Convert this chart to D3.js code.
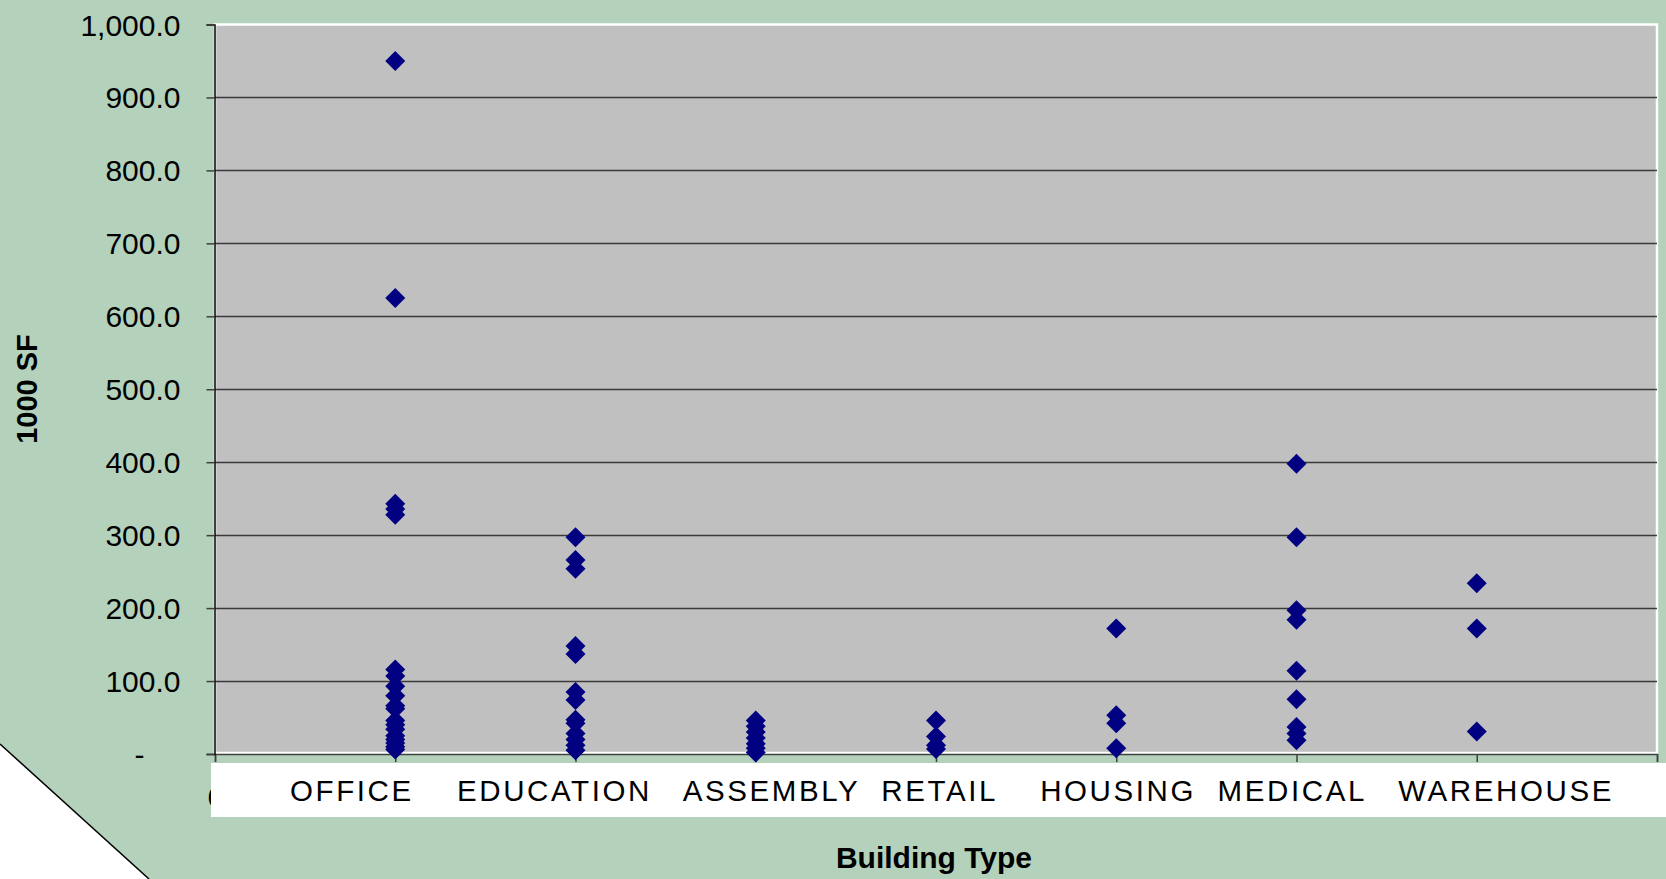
<!DOCTYPE html>
<html>
<head>
<meta charset="utf-8">
<script src="https://cdn.jsdelivr.net/npm/d3@7/dist/d3.min.js"></script>
<style>
  html, body { margin: 0; padding: 0; background: #B3D1BB; }
  svg { display: block; }
  text { font-family: "Liberation Sans", Arial, sans-serif; fill: #000; }
</style>
</head>
<body>
<svg id="chart" width="1666" height="879"></svg>
<script>
// Building floor area (thousands of square feet) by building type
const categories = ["OFFICE", "EDUCATION", "ASSEMBLY", "RETAIL", "HOUSING", "MEDICAL", "WAREHOUSE"];
const officeSF    = [950, 625, 343, 336, 328, 116, 107, 93, 80, 66, 62, 46, 40, 34, 25, 20, 15, 10, 6];
const educationSF = [297, 266, 254, 148, 137, 85, 74, 47, 42, 28, 20, 12, 5];
const assemblySF  = [46, 38, 30, 22, 14, 8, 2];
const retailSF    = [46, 24, 12, 7];
const housingSF   = [172, 53, 42, 8];
const medicalSF   = [398, 297, 197, 184, 114, 75, 37, 28, 19];
const warehouseSF = [234, 172, 31];
const yTickValues = [0, 100, 200, 300, 400, 500, 600, 700, 800, 900, 1000];
const xTickValues = [0, 1, 2, 3, 4, 5, 6, 7, 8];

const seriesByType = [officeSF, educationSF, assemblySF, retailSF, housingSF, medicalSF, warehouseSF];
const points = [];
seriesByType.forEach((vals, i) => vals.forEach(v => points.push({ pos: i + 1, value: v })));

const svg = d3.select("#chart");
const W = 1666, H = 879;
const plot = { left: 215, right: 1657, top: 24.5, bottom: 754 };

const x = d3.scaleLinear().domain([0, 8]).range([plot.left, plot.right]);
const y = d3.scaleLinear().domain([0, 1000]).range([plot.bottom, plot.top]);

// page background
svg.append("rect").attr("width", W).attr("height", H).attr("fill", "#B3D1BB");

// white corner cut at bottom-left
svg.append("path")
  .attr("d", `M0,744 L149,${H} L0,${H} Z`)
  .attr("fill", "#fff");
svg.append("line")
  .attr("x1", 0).attr("y1", 744).attr("x2", 149).attr("y2", H)
  .attr("stroke", "#000").attr("stroke-width", 1.5);

// plot area
svg.append("rect")
  .attr("x", plot.left).attr("y", y(1000))
  .attr("width", plot.right - plot.left)
  .attr("height", plot.bottom - y(1000) - 1)
  .attr("fill", "#C0C0C0")
  .attr("stroke", "#fff").attr("stroke-width", 2.5);

// horizontal gridlines
svg.append("g")
  .selectAll("line")
  .data(yTickValues.filter(v => v > 0 && v < 1000))
  .join("line")
  .attr("x1", plot.left).attr("x2", plot.right)
  .attr("y1", d => Math.round(y(d)) + 0.5).attr("y2", d => Math.round(y(d)) + 0.5)
  .attr("stroke", "#3a3a3a").attr("stroke-width", 1.3);

// x axis: only the origin label peeks out from behind the category band
const xAxis = d3.axisBottom(x).tickValues(xTickValues).tickSize(8).tickPadding(25)
  .tickFormat(d => d === 0 ? "0" : "");
const gx = svg.append("g").attr("transform", `translate(0,${plot.bottom})`).call(xAxis);
gx.select(".domain").attr("stroke", "#404040").attr("stroke-width", 1.5);
gx.selectAll(".tick line").attr("stroke", "#404040").attr("stroke-width", 1.5);
gx.selectAll(".tick text").attr("font-size", 28).attr("font-family", "Liberation Sans, Arial, sans-serif").attr("fill", "#000");
gx.selectAll(".tick text").filter(d => d !== 0).remove();

// y axis
const yFmt = d3.format(",.1f");
const yAxis = d3.axisLeft(y).tickValues(yTickValues).tickSize(8).tickPadding(26)
  .tickFormat(d => d === 0 ? "-" : yFmt(d));
const gy = svg.append("g").attr("transform", `translate(${plot.left - 0.5},0)`).call(yAxis);
gy.select(".domain").attr("stroke", "#000").attr("stroke-width", 1.5);
gy.selectAll(".tick line").attr("stroke", "#404040").attr("stroke-width", 1.5);
gy.selectAll(".tick text")
  .attr("font-size", 30)
  .attr("font-family", "Liberation Sans, Arial, sans-serif")
  .attr("fill", "#000")
  .attr("dy", "0.35em")
  .filter(d => d === 0).attr("x", -70);

// data points: navy diamonds
const diamond = d3.symbol().type(d3.symbolSquare).size(200);
svg.append("g")
  .selectAll("path")
  .data(points)
  .join("path")
  .attr("d", diamond)
  .attr("transform", d => `translate(${x(d.pos)},${y(d.value)}) rotate(45)`)
  .attr("fill", "#000080");

// category label band
svg.append("rect")
  .attr("x", 211).attr("y", 763)
  .attr("width", W - 211).attr("height", 54)
  .attr("fill", "#fff");

const gaps = [4, 3, 2, 4, 2, 3];
const bandText = categories.map((c, i) => c + (i < gaps.length ? " ".repeat(gaps[i]) : "")).join("");
svg.append("text")
  .attr("x", 290).attr("y", 801)
  .attr("font-size", 29.5)
  .attr("letter-spacing", 2.6)
  .style("white-space", "pre")
  .attr("xml:space", "preserve")
  .text(bandText);

// axis titles
svg.append("text")
  .attr("transform", "translate(27,389) rotate(-90)")
  .attr("text-anchor", "middle")
  .attr("dy", "0.35em")
  .attr("font-size", 29)
  .attr("font-weight", "bold")
  .text("1000 SF");

svg.append("text")
  .attr("x", 934).attr("y", 868)
  .attr("text-anchor", "middle")
  .attr("font-size", 30)
  .attr("font-weight", "bold")
  .text("Building Type");
</script>
</body>
</html>
